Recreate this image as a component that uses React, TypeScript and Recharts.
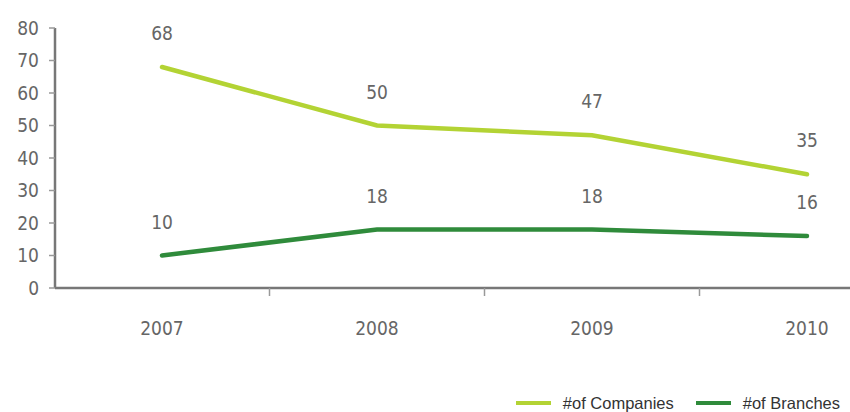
import React from "react";
import { LineChart, Line, XAxis, YAxis, LabelList, Legend } from "recharts";

const years = ["2007", "2008", "2009", "2010"];
const companies = [68, 50, 47, 35];
const branches = [10, 18, 18, 16];
const yTicks = [0, 10, 20, 30, 40, 50, 60, 70, 80];

const data = years.map((y, i) => ({ year: y, companies: companies[i], branches: branches[i] }));

const COMP = "#b3d334";
const BRAN = "#2f8b3b";
const NUM_FONT = "'DejaVu Sans Condensed', 'Open Sans', sans-serif";
const NUM_SIZE = 19;
const HALF_STEP = 107.5;

const XTick = (props: any) => {
  const { x, y, payload, index } = props;
  return (
    <g>
      <text x={x} y={y + 40} textAnchor="middle" dominantBaseline="central" fill="#666" fontSize={NUM_SIZE} fontFamily={NUM_FONT}>
        {payload.value}
      </text>
      {index < years.length - 1 && (
        <line x1={x + HALF_STEP} x2={x + HALF_STEP} y1={y} y2={y + 8} stroke="#999" strokeWidth={1.5} />
      )}
    </g>
  );
};

const LegendContent = () => {
  const items = [
    { name: "#of Companies", color: COMP },
    { name: "#of Branches", color: BRAN },
  ];
  return (
    <div style={{ height: 30, boxSizing: "border-box", paddingTop: 12, display: "flex", justifyContent: "flex-end", paddingRight: 10 }}>
      {items.map((it, i) => (
        <div key={it.name} style={{ display: "flex", alignItems: "center", marginLeft: i === 0 ? 0 : 22, height: 18 }}>
          <svg width={35} height={6} style={{ marginRight: 12 }}>
            <line x1={0} y1={3} x2={35} y2={3} stroke={it.color} strokeWidth={4} />
          </svg>
          <span style={{ fontFamily: "'Liberation Sans', Arial, sans-serif", fontSize: 16.5, color: "#333", lineHeight: "18px" }}>{it.name}</span>
        </div>
      ))}
    </div>
  );
};

export default function App() {
  return (
    <div style={{ position: "absolute", left: 0, top: 0, width: 850, height: 412, overflow: "hidden", background: "#fff" }}>
      <LineChart width={850} height={412} data={data} margin={{ top: 28, right: 0, left: 0, bottom: 0 }}>
        <YAxis
          width={55}
          domain={[0, 80]}
          ticks={yTicks}
          interval={0}
          axisLine={{ stroke: "#777", strokeWidth: 2.5 }}
          tickLine={{ stroke: "#999", strokeWidth: 1.5 }}
          tickSize={6}
          tickMargin={10}
          tick={{ fill: "#666", fontSize: NUM_SIZE, fontFamily: NUM_FONT }}
        />
        <XAxis
          dataKey="year"
          height={94}
          padding={{ left: 107, right: 43 }}
          axisLine={{ stroke: "#777", strokeWidth: 2.5 }}
          tickLine={false}
          tickSize={0}
          tickMargin={0}
          interval={0}
          tick={<XTick />}
        />
        <Legend verticalAlign="bottom" align="right" content={<LegendContent />} />
        <Line
          dataKey="companies"
          name="#of Companies"
          stroke={COMP}
          strokeWidth={4.5}
          dot={false}
          strokeLinecap="round"
          isAnimationActive={false}
        >
          <LabelList dataKey="companies" position="top" offset={27} fill="#666" fontSize={NUM_SIZE} fontFamily={NUM_FONT} />
        </Line>
        <Line
          dataKey="branches"
          name="#of Branches"
          stroke={BRAN}
          strokeWidth={4.5}
          dot={false}
          strokeLinecap="round"
          isAnimationActive={false}
        >
          <LabelList dataKey="branches" position="top" offset={27} fill="#666" fontSize={NUM_SIZE} fontFamily={NUM_FONT} />
        </Line>
      </LineChart>
    </div>
  );
}
